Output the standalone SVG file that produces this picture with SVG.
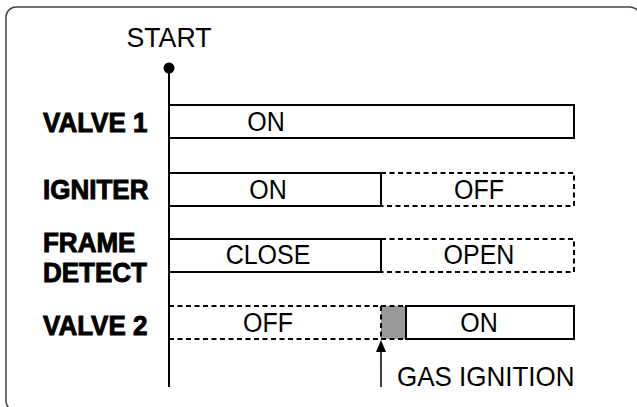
<svg xmlns="http://www.w3.org/2000/svg" width="637" height="407" viewBox="0 0 637 407">
<style>
.lbl{font-family:"Liberation Sans",Arial,sans-serif;font-weight:bold;font-size:26px;fill:#000;stroke:#000;stroke-width:0.9px}
.t{font-family:"Liberation Sans",Arial,sans-serif;font-size:25px;fill:#000;text-anchor:middle}
.solid{fill:#fff;stroke:#000;stroke-width:2}
.dash{fill:none;stroke:#000;stroke-width:2;stroke-dasharray:5 3.5}
</style>
<defs>
<marker id="ah" viewBox="0 0 10 12" refX="5" refY="0" markerWidth="10" markerHeight="12" markerUnits="userSpaceOnUse" orient="auto-start-reverse">
<path d="M0,12 L5,0 L10,12 Z" fill="#000"/>
</marker>
</defs>
<rect x="6" y="7" width="634" height="404" rx="10" fill="#fff" stroke="#444" stroke-width="1.5"/>
<g id="timeline">
<text class="t" transform="translate(169,47) scale(1,1.08)" style="font-size:26px" textLength="85" lengthAdjust="spacingAndGlyphs">START</text>
<circle cx="169" cy="68" r="5.5" fill="#000"/>
</g>
<g id="connectors">
<line x1="169" y1="68" x2="169" y2="387" stroke="#000" stroke-width="2"/>
<line x1="381" y1="387" x2="381" y2="351" stroke="#000" stroke-width="1.5"/>
<path d="M376,352 L381,340 L386,352 Z" fill="#000"/>
</g>
<g id="valve1">
<text class="lbl" transform="translate(43,132) scale(1,1.08)">VALVE 1</text>
<rect class="solid" x="169" y="105" width="405" height="33"/>
<text class="t" transform="translate(266,131) scale(1,1.08)">ON</text>
</g>
<g id="igniter">
<text class="lbl" transform="translate(43,199) scale(1,1.08)">IGNITER</text>
<path class="dash" d="M381,173 H574 V206 H381"/>
<rect class="solid" x="169" y="173" width="212" height="33"/>
<text class="t" transform="translate(268,199) scale(1,1.08)">ON</text>
<text class="t" transform="translate(479,199) scale(1,1.08)">OFF</text>
</g>
<g id="frame-detect">
<text class="lbl" transform="translate(43,252) scale(1,1.08)">FRAME</text>
<text class="lbl" transform="translate(43,282) scale(1,1.08)">DETECT</text>
<path class="dash" d="M381,239 H574 V272 H381"/>
<rect class="solid" x="169" y="239" width="212" height="33"/>
<text class="t" transform="translate(268,264) scale(1,1.08)">CLOSE</text>
<text class="t" transform="translate(479,264) scale(1,1.08)">OPEN</text>
</g>
<g id="valve2">
<text class="lbl" transform="translate(43,335) scale(1,1.08)">VALVE 2</text>
<path class="dash" d="M169,306 H381 M169,339 H381"/>
<rect x="381" y="306" width="25" height="33" fill="#999" stroke="none"/>
<path class="dash" d="M381,306 V339 M381,306 H406 M381,339 H406"/>
<rect class="solid" x="406" y="306" width="168" height="33"/>
<text class="t" transform="translate(268,332) scale(1,1.08)">OFF</text>
<text class="t" transform="translate(479,332) scale(1,1.08)">ON</text>
</g>
<g id="gas-ignition">
<text class="t" transform="translate(397,386) scale(1,1.05)" style="text-anchor:start;font-size:26px">GAS IGNITION</text>
</g>
</svg>
